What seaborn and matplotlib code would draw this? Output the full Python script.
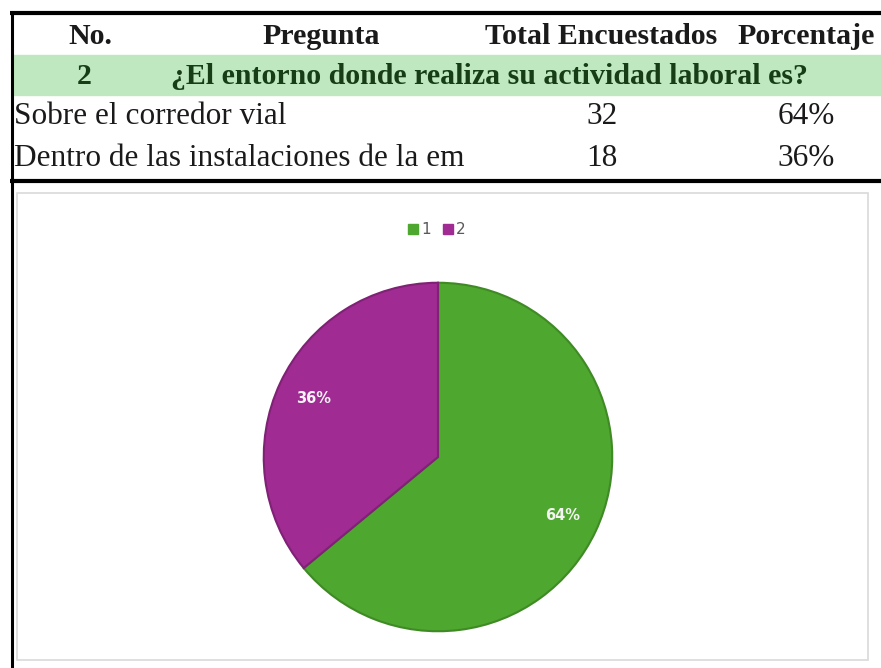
import matplotlib
matplotlib.use("Agg")
import matplotlib.pyplot as plt
import matplotlib.patches as mpatches
import seaborn as sns

# data
encabezados = ["No.", "Pregunta", "Total Encuestados", "Porcentaje"]
numero_pregunta = "2"
pregunta = "¿El entorno donde realiza su actividad laboral es?"
respuestas = ["Sobre el corredor vial", "Dentro de las instalaciones de la em"]
totales = [32, 18]
porcentajes = [64, 36]
leyenda = ["1", "2"]

sns.set_theme(style="white")
plt.rcParams["font.family"] = ["DejaVu Sans"]
colores = ["#4ea72e", "#a02b93"]
bordes = ["#3f8a25", "#7f2175"]

W, H = 881, 668
fig = plt.figure(figsize=(W / 100, H / 100), dpi=100)
fig.patch.set_facecolor("white")

# pixel-space axes for the spreadsheet part
tab = fig.add_axes([0, 0, 1, 1])
tab.set_xlim(0, W)
tab.set_ylim(H, 0)
tab.axis("off")

serif = "Liberation Serif"

# green question row
tab.add_patch(mpatches.Rectangle((13, 55), W - 13, 40, color="#bfe8c0", zorder=1))

# header
xs_head = [90, 321, 601, 806]
for x, t in zip(xs_head, encabezados):
    tab.text(x, 37, t, family=serif, weight="bold", fontsize=21.5,
             ha="center", va="center", color="#1a1a1a", zorder=3)

tab.text(84, 76, numero_pregunta, family=serif, weight="bold", fontsize=21.5,
         ha="center", va="center", color="#173d17", zorder=3)
tab.text(489, 76, pregunta, family=serif, weight="bold", fontsize=21.5,
         ha="center", va="center", color="#173d17", zorder=3)

for y, r, n, p in zip([116, 158], respuestas, totales, porcentajes):
    tab.text(14, y, r, family=serif, fontsize=22.5, ha="left", va="center",
             color="#1a1a1a", zorder=3)
    tab.text(602, y, str(n), family=serif, fontsize=22.5, ha="center",
             va="center", color="#1a1a1a", zorder=3)
    tab.text(806, y, f"{p}%", family=serif, fontsize=22.5, ha="center",
             va="center", color="#1a1a1a", zorder=3)

# borders
tab.plot([10, W], [13, 13], color="black", lw=3, zorder=4, solid_capstyle="butt")
tab.plot([10, W], [181, 181], color="black", lw=3, zorder=4, solid_capstyle="butt")
tab.plot([11.5, 11.5], [11.5, H], color="black", lw=2.2, zorder=4, solid_capstyle="butt")

# chart frame
tab.add_patch(mpatches.Rectangle((17, 193), 868 - 17, 660 - 193, fill=False,
                                 edgecolor="#d9d9d9", lw=1.2, zorder=2))

# legend
lx = 408
for lab, c in zip(leyenda, colores):
    tab.add_patch(mpatches.Rectangle((lx, 224), 10, 10, color=c, zorder=3))
    tab.text(lx + 13, 229, lab, fontsize=11, color="#595959", ha="left",
             va="center", zorder=3)
    lx += 35

# pie
cx, cy, r = 438, 457, 176
ax = fig.add_axes([(cx - r) / W, (H - cy - r) / H, 2 * r / W, 2 * r / H])
wedges, _, autotexts = ax.pie(
    porcentajes, colors=colores, startangle=90, counterclock=False,
    autopct=lambda v: f"{v:.0f}%", pctdistance=0.79,
    textprops=dict(color="#f4f4f4", fontsize=10.5, weight="bold"),
    wedgeprops=dict(linewidth=1.5),
)
for w, b in zip(wedges, bordes):
    w.set_edgecolor(b)
ax.set_xlim(-1.01, 1.01)
ax.set_ylim(-1.01, 1.01)
ax.set_aspect("equal")
ax.axis("off")

fig.savefig("out.png", dpi=100, facecolor="white")
